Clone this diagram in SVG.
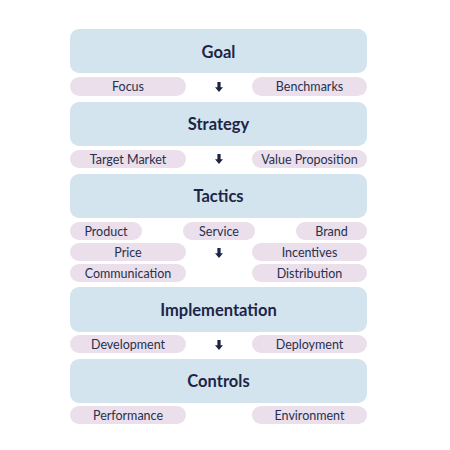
<svg xmlns="http://www.w3.org/2000/svg" width="450" height="450" viewBox="0 0 450 450">
<defs>
<style>
.box{fill:#d3e4ef}
.pill{fill:#eadfea}
.t{font-family:Lato,"Open Sans","Liberation Sans",sans-serif;font-weight:bold;font-size:16.5px;fill:#1d2547;text-anchor:middle;dominant-baseline:central}
.p{font-family:Lato,"Open Sans","Liberation Sans",sans-serif;font-size:12.5px;fill:#27304f;text-anchor:middle;dominant-baseline:central}
.arr{fill:#1d2547}
</style>
<symbol id="arrow" viewBox="0 0 8 10" overflow="visible">
<path d="M2.4 0 H5.6 V5.2 H8 L4 10 L0 5.2 H2.4 Z"/>
</symbol>
</defs>
<rect width="450" height="450" fill="#ffffff"/>
<g id="goal"><rect class="box" x="70" y="29" width="297" height="44" rx="9"/><text class="t" x="218.5" y="51.5">Goal</text></g>
<g id="focus"><rect class="pill" x="70" y="77" width="116" height="19" rx="9.5"/><text class="p" x="128" y="86.5">Focus</text></g>
<g id="benchmarks"><rect class="pill" x="252" y="77" width="115" height="19" rx="9.5"/><text class="p" x="309.5" y="86.5">Benchmarks</text></g>
<g id="strategy"><rect class="box" x="70" y="102" width="297" height="44" rx="9"/><text class="t" x="218.5" y="124">Strategy</text></g>
<g id="target-market"><rect class="pill" x="70" y="150" width="116" height="18" rx="9"/><text class="p" x="128" y="159">Target Market</text></g>
<g id="value-proposition"><rect class="pill" x="252" y="150" width="115" height="18" rx="9"/><text class="p" x="309.5" y="159">Value Proposition</text></g>
<g id="tactics"><rect class="box" x="70" y="174" width="297" height="44" rx="9"/><text class="t" x="218.5" y="196">Tactics</text></g>
<g id="product"><rect class="pill" x="70" y="222" width="72" height="18" rx="9"/><text class="p" x="106" y="231">Product</text></g>
<g id="service"><rect class="pill" x="183" y="222" width="72" height="18" rx="9"/><text class="p" x="219" y="231">Service</text></g>
<g id="brand"><rect class="pill" x="296" y="222" width="71" height="18" rx="9"/><text class="p" x="331.5" y="231">Brand</text></g>
<g id="price"><rect class="pill" x="70" y="243" width="116" height="18" rx="9"/><text class="p" x="128" y="252">Price</text></g>
<g id="incentives"><rect class="pill" x="252" y="243" width="115" height="18" rx="9"/><text class="p" x="309.5" y="252">Incentives</text></g>
<g id="communication"><rect class="pill" x="70" y="264" width="116" height="18" rx="9"/><text class="p" x="128" y="273">Communication</text></g>
<g id="distribution"><rect class="pill" x="252" y="264" width="115" height="18" rx="9"/><text class="p" x="309.5" y="273">Distribution</text></g>
<g id="implementation"><rect class="box" x="70" y="287" width="297" height="45" rx="9"/><text class="t" x="218.5" y="310">Implementation</text></g>
<g id="development"><rect class="pill" x="70" y="335" width="116" height="18" rx="9"/><text class="p" x="128" y="344">Development</text></g>
<g id="deployment"><rect class="pill" x="252" y="335" width="115" height="18" rx="9"/><text class="p" x="309.5" y="344">Deployment</text></g>
<g id="controls"><rect class="box" x="70" y="359" width="297" height="44" rx="9"/><text class="t" x="218.5" y="381">Controls</text></g>
<g id="performance"><rect class="pill" x="70" y="406" width="116" height="18" rx="9"/><text class="p" x="128" y="415">Performance</text></g>
<g id="environment"><rect class="pill" x="252" y="406" width="115" height="18" rx="9"/><text class="p" x="309.5" y="415">Environment</text></g>
<g id="connectors" class="arr">
<use href="#arrow" x="215" y="82" width="8" height="10"/>
<use href="#arrow" x="215" y="154" width="8" height="10"/>
<use href="#arrow" x="215" y="248" width="8" height="10"/>
<use href="#arrow" x="215" y="340" width="8" height="10"/>
</g>
</svg>
